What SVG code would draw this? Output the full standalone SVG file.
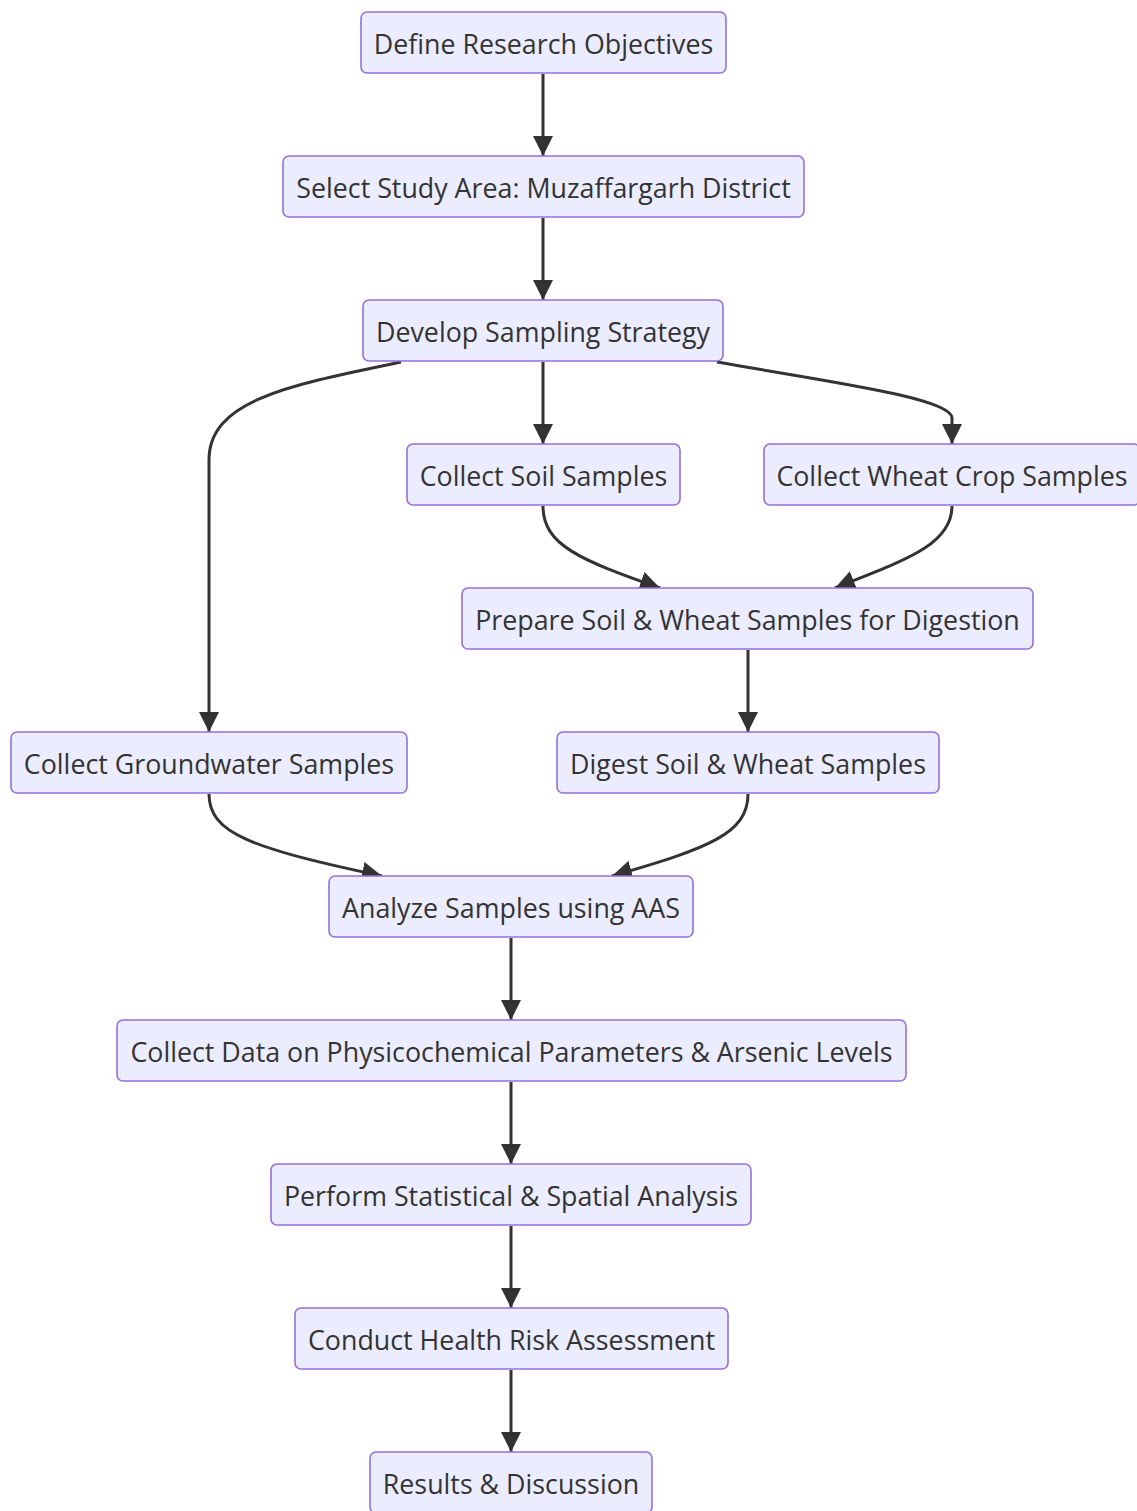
<svg xmlns="http://www.w3.org/2000/svg" width="1137" height="1511" viewBox="0 0 1137 1511">
<style>
.node rect{fill:#ECECFF;stroke:#9370DB;stroke-width:1.6}
.node text{font-family:"Open Sans","Noto Sans",sans-serif;font-size:26.8px;fill:#333;text-anchor:middle;dominant-baseline:central}
.edge{fill:none;stroke:#333;stroke-width:3}
</style>
<defs>
<marker id="arr" viewBox="0 0 10 10" refX="10" refY="5" markerUnits="userSpaceOnUse" markerWidth="20" markerHeight="20" orient="auto">
<path d="M0,0 L10,5 L0,10 z" fill="#333"/>
</marker>
</defs>
<rect width="1137" height="1511" fill="#fff"/>
<g id="edges">
<path class="edge" marker-end="url(#arr)" d="M543,74 L543,156"/>
<path class="edge" marker-end="url(#arr)" d="M543,218 L543,300"/>
<path class="edge" marker-end="url(#arr)" d="M543,362 L543,444"/>
<path class="edge" marker-end="url(#arr)" d="M401,362 C290,385 209,400 209,460 L209,732"/>
<path class="edge" marker-end="url(#arr)" d="M717,362 C830,382 952,398 952,418 L952,444"/>
<path class="edge" marker-end="url(#arr)" d="M543,506 C543,545 580,560 660,588"/>
<path class="edge" marker-end="url(#arr)" d="M952,506 C952,545 905,560 835,588"/>
<path class="edge" marker-end="url(#arr)" d="M748,650 L748,732"/>
<path class="edge" marker-end="url(#arr)" d="M209,794 C209,833 250,848 382,876"/>
<path class="edge" marker-end="url(#arr)" d="M748,794 C748,833 710,848 612,876"/>
<path class="edge" marker-end="url(#arr)" d="M511,938 L511,1020"/>
<path class="edge" marker-end="url(#arr)" d="M511,1082 L511,1164"/>
<path class="edge" marker-end="url(#arr)" d="M511,1226 L511,1308"/>
<path class="edge" marker-end="url(#arr)" d="M511,1370 L511,1452"/>
</g>
<g id="n1" class="node"><rect x="361" y="12" width="365" height="61" rx="6"/><text x="543.5" y="43">Define Research Objectives</text></g>
<g id="n2" class="node"><rect x="283" y="156" width="521" height="61" rx="6"/><text x="543.5" y="187">Select Study Area: Muzaffargarh District</text></g>
<g id="n3" class="node"><rect x="363" y="300" width="360" height="61" rx="6"/><text x="543" y="331">Develop Sampling Strategy</text></g>
<g id="n4" class="node"><rect x="407" y="444" width="273" height="61" rx="6"/><text x="543.5" y="475">Collect Soil Samples</text></g>
<g id="n5" class="node"><rect x="764" y="444" width="376" height="61" rx="6"/><text x="952" y="475">Collect Wheat Crop Samples</text></g>
<g id="n6" class="node"><rect x="462" y="588" width="571" height="61" rx="6"/><text x="747.5" y="619">Prepare Soil &amp; Wheat Samples for Digestion</text></g>
<g id="n7" class="node"><rect x="11" y="732" width="396" height="61" rx="6"/><text x="209" y="763">Collect Groundwater Samples</text></g>
<g id="n8" class="node"><rect x="557" y="732" width="382" height="61" rx="6"/><text x="748" y="763">Digest Soil &amp; Wheat Samples</text></g>
<g id="n9" class="node"><rect x="329" y="876" width="364" height="61" rx="6"/><text x="511" y="907">Analyze Samples using AAS</text></g>
<g id="n10" class="node"><rect x="117" y="1020" width="789" height="61" rx="6"/><text x="511.5" y="1051">Collect Data on Physicochemical Parameters &amp; Arsenic Levels</text></g>
<g id="n11" class="node"><rect x="271" y="1164" width="480" height="61" rx="6"/><text x="511" y="1195">Perform Statistical &amp; Spatial Analysis</text></g>
<g id="n12" class="node"><rect x="295" y="1308" width="433" height="61" rx="6"/><text x="511.5" y="1339">Conduct Health Risk Assessment</text></g>
<g id="n13" class="node"><rect x="370" y="1452" width="282" height="61" rx="6"/><text x="511" y="1483">Results &amp; Discussion</text></g>
</svg>
